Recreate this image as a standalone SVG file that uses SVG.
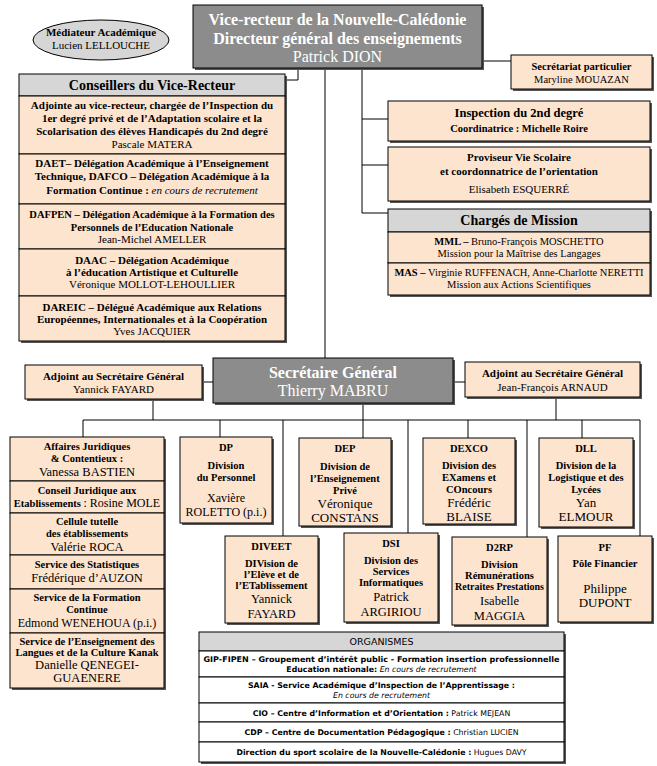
<svg xmlns="http://www.w3.org/2000/svg" width="657" height="766" viewBox="0 0 657 766">
<style>
.b{fill:#fde4cf;stroke:#000;stroke-width:1}
.wb{fill:#fff;stroke:#000;stroke-width:1}
.g{fill:#8c8c8c;stroke:#000;stroke-width:1}
.h{fill:#d6d6d6;stroke:#000;stroke-width:1}
.sh{fill:#555}
.ln{stroke:#000;stroke-width:1;fill:none}
text{font-family:"Liberation Serif","Times New Roman",serif;text-anchor:middle;fill:#000}
.bd{font-weight:bold}
.w{fill:#fff}
.it{font-style:italic;font-weight:normal}
.rg{font-weight:normal}
.s10{font-size:10px}.s105{font-size:10.5px}.s11{font-size:11px}.s12{font-size:12px}.s125{font-size:12.5px}.s13{font-size:13px}.s14{font-size:14px}.s16{font-size:16px}
.sans{font-family:"DejaVu Sans","Verdana",sans-serif;font-size:7.8px}
</style>
<rect width="657" height="766" fill="#fff"/>

<g id="connectors" class="ln">
<path d="M298,68 V80 H285"/>
<path d="M325,68 V358"/>
<path d="M362,68 V213 H388 M362,119 H388 M362,165 H388"/>
<path d="M482,61 H511"/>
<path d="M202,382 H213 M453,382 H465"/>
<path d="M153,399 V420 M556,397 V420 M363,403 V438"/>
<path d="M83,420 H640"/>
<path d="M83,420 V437 M220,420 V437 M283,420 V536 M408,420 V533 M468,420 V438 M527,420 V537 M582,420 V438 M640,420 V536"/>
</g>

<g id="mediateur">
<ellipse cx="101" cy="40" rx="68" ry="20" fill="#d6d6d6" stroke="#000"/>
<text x="101" y="36" class="bd s11">Médiateur Académique</text>
<text x="101" y="49" class="s11">Lucien LELLOUCHE</text>
</g>

<g id="vice-recteur">
<rect x="195" y="7" width="289" height="63" class="sh"/>
<rect x="193" y="5" width="289" height="63" class="g"/>
<text x="337.5" y="25" class="bd s16 w">Vice-recteur de la Nouvelle-Calédonie</text>
<text x="337.5" y="44" class="bd s16 w">Directeur général des enseignements</text>
<text x="337.5" y="62" class="s16 w">Patrick DION</text>
</g>

<g id="secretariat">
<rect x="513" y="57" width="141" height="34" class="sh"/>
<rect x="511" y="55" width="141" height="34" class="b"/>
<text x="581.5" y="70" class="bd s105">Secrétariat particulier</text>
<text x="581.5" y="83" class="s105">Maryline MOUAZAN</text>
</g>

<g id="conseillers">
<rect x="21" y="76" width="266" height="267" class="sh"/>
<rect x="19" y="74" width="266" height="22" class="h"/>
<rect x="19" y="96" width="266" height="58" class="b"/>
<rect x="19" y="154" width="266" height="50" class="b"/>
<rect x="19" y="204" width="266" height="45" class="b"/>
<rect x="19" y="249" width="266" height="47" class="b"/>
<rect x="19" y="296" width="266" height="45" class="b"/>
<text x="152" y="90" class="bd s14">Conseillers du Vice-Recteur</text>
<text x="152" y="109" class="bd s11">Adjointe au vice-recteur, chargée de l’Inspection du</text>
<text x="152" y="122" class="bd s11">1er degré privé et de l’Adaptation scolaire et la</text>
<text x="152" y="135" class="bd s11">Scolarisation des élèves Handicapés du 2nd degré</text>
<text x="152" y="148" class="s11">Pascale MATERA</text>
<text x="152" y="167" class="bd s11">DAET– Délégation Académique à l’Enseignement</text>
<text x="152" y="180" class="bd s11">Technique, DAFCO – Délégation Académique à la</text>
<text x="152" y="194" class="bd s11">Formation Continue : <tspan class="it">en cours de recrutement</tspan></text>
<text x="152" y="218" class="bd s105">DAFPEN – Délégation Académique à la Formation des</text>
<text x="152" y="231" class="bd s105">Personnels de l’Education Nationale</text>
<text x="152" y="243" class="s11">Jean-Michel AMELLER</text>
<text x="152" y="264" class="bd s11">DAAC –  Délégation Académique</text>
<text x="152" y="276" class="bd s11">à l’éducation Artistique et Culturelle</text>
<text x="152" y="288" class="s11">Véronique MOLLOT-LEHOULLIER</text>
<text x="152" y="311" class="bd s11">DAREIC – Délégué Académique aux Relations</text>
<text x="152" y="323" class="bd s11">Européennes, Internationales et à la Coopération</text>
<text x="152" y="335" class="s11">Yves JACQUIER</text>
</g>

<g id="inspection">
<rect x="390" y="103" width="262" height="40" class="sh"/>
<rect x="388" y="101" width="262" height="40" class="b"/>
<text x="519" y="117" class="bd s125">Inspection du 2nd degré</text>
<text x="519" y="132" class="bd s105">Coordinatrice : Michelle Roire</text>
</g>

<g id="proviseur">
<rect x="390" y="149" width="262" height="54" class="sh"/>
<rect x="388" y="147" width="262" height="54" class="b"/>
<text x="519" y="161" class="bd s11">Proviseur Vie Scolaire</text>
<text x="519" y="175" class="bd s11">et coordonnatrice de l’orientation</text>
<text x="519" y="193" class="s11">Elisabeth ESQUERRÉ</text>
</g>

<g id="charges">
<rect x="390" y="211" width="262" height="86" class="sh"/>
<rect x="388" y="209" width="262" height="23" class="h"/>
<rect x="388" y="232" width="262" height="31" class="b"/>
<rect x="388" y="263" width="262" height="32" class="b"/>
<text x="519" y="225" class="bd s14">Chargés de Mission</text>
<text x="519" y="245" class="s105"><tspan class="bd">MML –</tspan> Bruno-François MOSCHETTO</text>
<text x="519" y="257" class="s105">Mission pour la Maîtrise des Langages</text>
<text x="519" y="276" class="s105"><tspan class="bd">MAS –</tspan> Virginie RUFFENACH, Anne-Charlotte NERETTI</text>
<text x="519" y="288" class="s105">Mission  aux Actions Scientifiques</text>
</g>

<g id="secretaire-general">
<rect x="215" y="360" width="240" height="45" class="sh"/>
<rect x="213" y="358" width="240" height="45" class="g"/>
<text x="333" y="378" class="bd s16 w">Secrétaire Général</text>
<text x="333" y="396" class="s16 w">Thierry MABRU</text>
</g>

<g id="adjoint-fayard">
<rect x="27" y="367" width="177" height="34" class="sh"/>
<rect x="25" y="365" width="177" height="34" class="b"/>
<text x="113.5" y="380" class="bd s11">Adjoint au Secrétaire Général</text>
<text x="113.5" y="393" class="s11">Yannick FAYARD</text>
</g>

<g id="adjoint-arnaud">
<rect x="467" y="364" width="175" height="35" class="sh"/>
<rect x="465" y="362" width="175" height="35" class="b"/>
<text x="552.5" y="377" class="bd s11">Adjoint au Secrétaire Général</text>
<text x="552.5" y="391" class="s11">Jean-François ARNAUD</text>
</g>

<g id="affaires">
<rect x="12" y="439" width="154" height="251" class="sh"/>
<rect x="10" y="437" width="154" height="44" class="b"/>
<rect x="10" y="481" width="154" height="32" class="b"/>
<rect x="10" y="513" width="154" height="42" class="b"/>
<rect x="10" y="555" width="154" height="34" class="b"/>
<rect x="10" y="589" width="154" height="44" class="b"/>
<rect x="10" y="633" width="154" height="55" class="b"/>
<text x="87" y="450" class="bd s105">Affaires Juridiques</text>
<text x="87" y="462" class="bd s105">&amp; Contentieux :</text>
<text x="87" y="476" class="s125">Vanessa BASTIEN</text>
<text x="87" y="494" class="bd s105">Conseil Juridique aux</text>
<text x="87" y="507" class="bd s105">Etablissements <tspan class="rg s12">: Rosine MOLE</tspan></text>
<text x="87" y="525" class="bd s105">Cellule tutelle</text>
<text x="87" y="537" class="bd s105">des établissements</text>
<text x="87" y="551" class="s125">Valérie ROCA</text>
<text x="87" y="568" class="bd s105">Service des Statistiques</text>
<text x="87" y="582" class="s125">Frédérique d’AUZON</text>
<text x="87" y="601" class="bd s105">Service de la Formation</text>
<text x="87" y="613" class="bd s105">Continue</text>
<text x="87" y="627" class="s12">Edmond WENEHOUA (p.i.)</text>
<text x="87" y="645" class="bd s105">Service de l’Enseignement des</text>
<text x="87" y="656" class="bd s105">Langues et de la Culture Kanak</text>
<text x="87" y="669" class="s125">Danielle QENEGEI-</text>
<text x="87" y="682" class="s125">GUAENERE</text>
</g>

<g id="dp">
<rect x="182" y="439" width="92" height="86" class="sh"/>
<rect x="180" y="437" width="92" height="86" class="b"/>
<text x="226" y="451" class="bd s105">DP</text>
<text x="226" y="469" class="bd s105">Division</text>
<text x="226" y="481" class="bd s105">du Personnel</text>
<text x="226" y="502" class="s12">Xavière</text>
<text x="226" y="516" class="s12">ROLETTO (p.i.)</text>
</g>

<g id="dep">
<rect x="301" y="440" width="92" height="88" class="sh"/>
<rect x="299" y="438" width="92" height="88" class="b"/>
<text x="345" y="452" class="bd s105">DEP</text>
<text x="345" y="470" class="bd s105">Division de</text>
<text x="345" y="482" class="bd s105">l’Enseignement</text>
<text x="345" y="494" class="bd s105">Privé</text>
<text x="345" y="508" class="s13">Véronique</text>
<text x="345" y="522" class="s13">CONSTANS</text>
</g>

<g id="dexco">
<rect x="425" y="440" width="92" height="86" class="sh"/>
<rect x="423" y="438" width="92" height="86" class="b"/>
<text x="469" y="452" class="bd s105">DEXCO</text>
<text x="469" y="469" class="bd s105">Division des</text>
<text x="469" y="481" class="bd s105">EXamens et</text>
<text x="469" y="493" class="bd s105">COncours</text>
<text x="469" y="507" class="s13">Frédéric</text>
<text x="469" y="521" class="s13">BLAISE</text>
</g>

<g id="dll">
<rect x="541" y="440" width="94" height="89" class="sh"/>
<rect x="539" y="438" width="94" height="89" class="b"/>
<text x="586" y="452" class="bd s105">DLL</text>
<text x="586" y="469" class="bd s105">Division de la</text>
<text x="586" y="481" class="bd s105">Logistique et des</text>
<text x="586" y="493" class="bd s105">Lycées</text>
<text x="586" y="507" class="s13">Yan</text>
<text x="586" y="521" class="s13">ELMOUR</text>
</g>

<g id="diveet">
<rect x="227" y="538" width="93" height="87" class="sh"/>
<rect x="225" y="536" width="93" height="87" class="b"/>
<text x="271.5" y="550" class="bd s105">DIVEET</text>
<text x="271.5" y="567" class="bd s105">DIVision de</text>
<text x="271.5" y="578" class="bd s105">l’Elève  et de</text>
<text x="271.5" y="589" class="bd s105">l’ETablissement</text>
<text x="271.5" y="603" class="s125">Yannick</text>
<text x="271.5" y="618" class="s125">FAYARD</text>
</g>

<g id="dsi">
<rect x="346" y="535" width="94" height="89" class="sh"/>
<rect x="344" y="533" width="94" height="89" class="b"/>
<text x="391" y="547" class="bd s105">DSI</text>
<text x="391" y="564" class="bd s105">Division des</text>
<text x="391" y="575" class="bd s105">Services</text>
<text x="391" y="586" class="bd s105">Informatiques</text>
<text x="391" y="601" class="s125">Patrick</text>
<text x="391" y="616" class="s125">ARGIRIOU</text>
</g>

<g id="d2rp">
<rect x="454" y="539" width="95" height="88" class="sh"/>
<rect x="452" y="537" width="95" height="88" class="b"/>
<text x="499.5" y="551" class="bd s105">D2RP</text>
<text x="499.5" y="568" class="bd s105">Division</text>
<text x="499.5" y="579" class="bd s105">Rémunérations</text>
<text x="499.5" y="590" class="bd s10">Retraites Prestations</text>
<text x="499.5" y="605" class="s125">Isabelle</text>
<text x="499.5" y="620" class="s125">MAGGIA</text>
</g>

<g id="pf">
<rect x="560" y="538" width="94" height="86" class="sh"/>
<rect x="558" y="536" width="94" height="86" class="b"/>
<text x="605" y="551" class="bd s105">PF</text>
<text x="605" y="567" class="bd s105">Pôle Financier</text>
<text x="605" y="593" class="s13">Philippe</text>
<text x="605" y="607" class="s13">DUPONT</text>
</g>

<g id="organismes">
<rect x="201" y="634" width="365" height="130" class="sh"/>
<rect x="199" y="632" width="365" height="19" class="h"/>
<rect x="199" y="651" width="365" height="26" class="wb"/>
<rect x="199" y="677" width="365" height="26" class="wb"/>
<rect x="199" y="703" width="365" height="19" class="wb"/>
<rect x="199" y="722" width="365" height="20" class="wb"/>
<rect x="199" y="742" width="365" height="20" class="wb"/>
<text x="381.5" y="645" class="sans" style="font-size:9.5px">ORGANISMES</text>
<text x="381.5" y="662" class="sans bd" textLength="356" lengthAdjust="spacingAndGlyphs">GIP-FIPEN – Groupement d’intérêt public - Formation insertion professionnelle</text>
<text x="381.5" y="672" class="sans"><tspan class="bd">Education nationale:</tspan> <tspan font-style="italic">En cours de recrutement</tspan></text>
<text x="381.5" y="688" class="sans bd">SAIA - Service Académique d’Inspection de l’Apprentissage :</text>
<text x="381.5" y="698" class="sans" font-style="italic">En cours de recrutement</text>
<text x="381.5" y="716" class="sans"><tspan class="bd">CIO – Centre d’Information et d’Orientation :</tspan>  Patrick MEJEAN</text>
<text x="381.5" y="735" class="sans"><tspan class="bd">CDP – Centre de Documentation Pédagogique :</tspan> Christian LUCIEN</text>
<text x="381.5" y="755" class="sans"><tspan class="bd">Direction du sport scolaire de la Nouvelle-Calédonie :</tspan>  Hugues DAVY</text>
</g>
</svg>
